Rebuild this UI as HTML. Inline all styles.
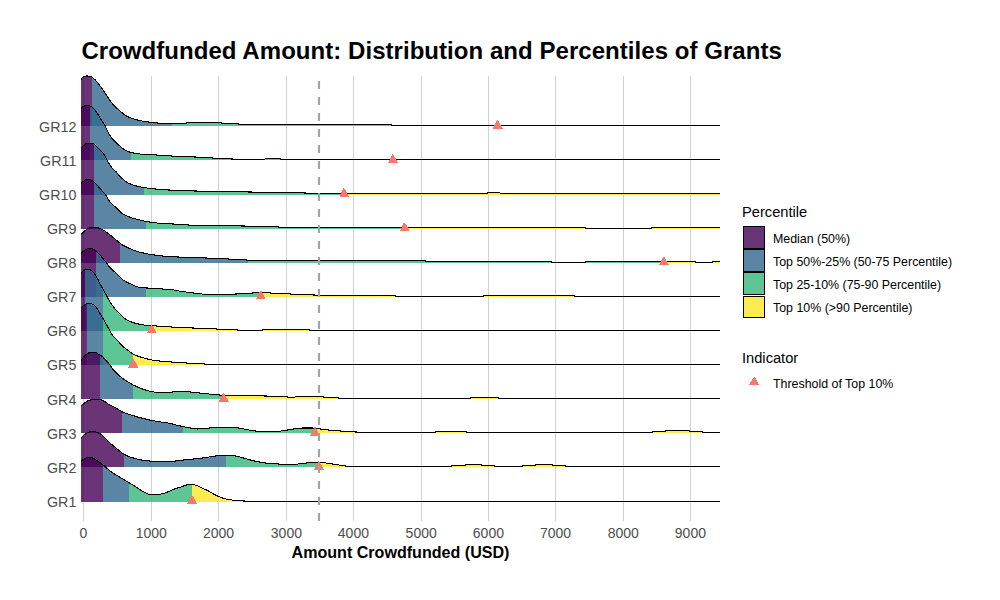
<!DOCTYPE html>
<html><head><meta charset="utf-8">
<style>
html,body{margin:0;padding:0;background:#fff;}
body{width:1000px;height:600px;overflow:hidden;font-family:"Liberation Sans",sans-serif;}
svg{display:block;}
text{font-family:"Liberation Sans",sans-serif;}
.tk{font-size:14px;fill:#4D4D4D;}
.lg{font-size:12.4px;fill:#000;}
.lt{font-size:14.67px;fill:#000;}
</style></head><body>
<svg width="1000" height="600" viewBox="0 0 1000 600">
<rect width="1000" height="600" fill="#fff"/>
<text x="81.4" y="59" font-size="24" font-weight="bold" fill="#000" textLength="700.4" lengthAdjust="spacing">Crowdfunded Amount: Distribution and Percentiles of Grants</text>
<g stroke="#D2D2D2" stroke-width="1" fill="none" shape-rendering="crispEdges">
<path d="M83.5,76V521M151.5,76V521M218.5,76V521M286.5,76V521M353.5,76V521M421.5,76V521M488.5,76V521M555.5,76V521M623.5,76V521M690.5,76V521"/>
</g>
<g shape-rendering="crispEdges">
<linearGradient id="g0" gradientUnits="userSpaceOnUse" x1="81" y1="0" x2="720" y2="0"><stop offset="0.00000" stop-color="#440154"/><stop offset="0.01706" stop-color="#440154"/><stop offset="0.01706" stop-color="#31688E"/><stop offset="0.14241" stop-color="#31688E"/><stop offset="0.14241" stop-color="#35B779"/><stop offset="0.65180" stop-color="#35B779"/><stop offset="0.65180" stop-color="#FDE725"/><stop offset="1.00000" stop-color="#FDE725"/></linearGradient>
<path d="M81,126L81,79.4L82,78L83,76.92L83.5,76.6L84.5,76.31L85.5,76.11L86.5,76.01L89,76.09L90.6,76.25L91,76.35L91.5,76.6L92,76.95L95,79.68L96.5,81.33L98.5,83.74L102,88.58L108.75,98.75L111,101.88L113,104.31L114.5,105.89L116,107.35L119,110.13L121,111.89L124.5,114.6L126,115.63L127,116.23L129.5,117.44L132.5,118.59L136,119.65L140,120.6L144,121.36L148,121.97L159,123.21L161.5,123.44L170,123.78L177.5,123.76L183.5,123.56L188.5,122.63L190,122.5L217,122.5L218.5,122.61L224.5,123.48L234.5,123.62L238.5,124.03L241.5,124.42L243,124.5L391.5,124.5L392,125.5L720,125.5L720,126Z" fill="url(#g0)" fill-opacity="0.80"/>
<path d="M81,79.4L82,78L83,76.92L83.5,76.6L84.5,76.31L85.5,76.11L86.5,76.01L89,76.09L90.6,76.25L91,76.35L91.5,76.6L92,76.95L95,79.68L96.5,81.33L98.5,83.74L102,88.58L108.75,98.75L111,101.88L113,104.31L114.5,105.89L116,107.35L119,110.13L121,111.89L124.5,114.6L126,115.63L127,116.23L129.5,117.44L132.5,118.59L136,119.65L140,120.6L144,121.36L148,121.97L159,123.21L161.5,123.44L170,123.78L177.5,123.76L183.5,123.56L188.5,122.63L190,122.5L217,122.5L218.5,122.61L224.5,123.48L234.5,123.62L238.5,124.03L241.5,124.42L243,124.5L391.5,124.5L392,125.5L720,125.5" fill="none" stroke="#000" stroke-width="1.07" stroke-linejoin="round"/>
</g>
<g shape-rendering="crispEdges">
<linearGradient id="g1" gradientUnits="userSpaceOnUse" x1="81" y1="0" x2="720" y2="0"><stop offset="0.00000" stop-color="#440154"/><stop offset="0.01408" stop-color="#440154"/><stop offset="0.01408" stop-color="#31688E"/><stop offset="0.07864" stop-color="#31688E"/><stop offset="0.07864" stop-color="#35B779"/><stop offset="0.48787" stop-color="#35B779"/><stop offset="0.48787" stop-color="#FDE725"/><stop offset="1.00000" stop-color="#FDE725"/></linearGradient>
<path d="M81,160L81,108.75L82,107.61L83,106.69L83.5,106.37L84.5,105.94L86,105.49L87,105.4L88.5,105.6L90.6,106.25L91.5,106.73L93,108.01L94.5,109.57L96,111.55L98,114.52L101.25,120L104,123.95L105,125.6L105.5,126.62L107.5,131.25L109.5,134.88L111,137.17L112,138.42L113.5,140.02L116,142.47L119,145.24L121,147.22L122.5,148.5L124.5,149.74L127.5,151.16L130,152.13L132.5,152.82L135.5,153.45L138,153.81L142,154.19L146,154.46L161.5,155.24L171.5,156.03L195,157L209.5,157.87L232,159L237,159.38L239.5,159.5L263,159.5L264,159.32L266,158.65L266.5,158.6L279,158.6L279.5,158.67L281,159.27L281.5,159.43L282,159.5L720,159.5L720,160Z" fill="url(#g1)" fill-opacity="0.80"/>
<path d="M81,108.75L82,107.61L83,106.69L83.5,106.37L84.5,105.94L86,105.49L87,105.4L88.5,105.6L90.6,106.25L91.5,106.73L93,108.01L94.5,109.57L96,111.55L98,114.52L101.25,120L104,123.95L105,125.6L105.5,126.62L107.5,131.25L109.5,134.88L111,137.17L112,138.42L113.5,140.02L116,142.47L119,145.24L121,147.22L122.5,148.5L124.5,149.74L127.5,151.16L130,152.13L132.5,152.82L135.5,153.45L138,153.81L142,154.19L146,154.46L161.5,155.24L171.5,156.03L195,157L209.5,157.87L232,159L237,159.38L239.5,159.5L263,159.5L264,159.32L266,158.65L266.5,158.6L279,158.6L279.5,158.67L281,159.27L281.5,159.43L282,159.5L720,159.5" fill="none" stroke="#000" stroke-width="1.07" stroke-linejoin="round"/>
</g>
<g shape-rendering="crispEdges">
<linearGradient id="g2" gradientUnits="userSpaceOnUse" x1="81" y1="0" x2="720" y2="0"><stop offset="0.00000" stop-color="#440154"/><stop offset="0.02034" stop-color="#440154"/><stop offset="0.02034" stop-color="#31688E"/><stop offset="0.09875" stop-color="#31688E"/><stop offset="0.09875" stop-color="#35B779"/><stop offset="0.41158" stop-color="#35B779"/><stop offset="0.41158" stop-color="#FDE725"/><stop offset="1.00000" stop-color="#FDE725"/></linearGradient>
<path d="M81,195L81,148.1L82.5,146.49L83.5,145.59L85.5,144.11L86,143.82L86.9,143.5L89,143.19L90,143.11L91,143.12L92,143.32L93,143.68L94,144.13L94.5,144.47L100,149.97L102.5,152.6L104,154.43L104.5,155.15L105,156.05L106.5,159.23L107.5,161.04L111.5,167.41L112.5,168.75L113.5,169.69L115.5,171.22L116.25,171.9L117,172.77L118.5,174.71L119.5,175.82L121.5,177.82L124,180.12L125,180.98L126,181.74L127.5,182.65L129,183.43L131.5,184.49L135,185.61L139,186.59L143.75,187.5L148.5,188.26L152,188.7L167.5,189.94L172,190.16L191.5,190.89L199,191.1L300.5,192.9L306,193.03L315.5,193.41L319.5,193.5L487,193.5L488,192.7L499.5,192.7L500.5,193.5L720,193.5L720,195Z" fill="url(#g2)" fill-opacity="0.80"/>
<path d="M81,148.1L82.5,146.49L83.5,145.59L85.5,144.11L86,143.82L86.9,143.5L89,143.19L90,143.11L91,143.12L92,143.32L93,143.68L94,144.13L94.5,144.47L100,149.97L102.5,152.6L104,154.43L104.5,155.15L105,156.05L106.5,159.23L107.5,161.04L111.5,167.41L112.5,168.75L113.5,169.69L115.5,171.22L116.25,171.9L117,172.77L118.5,174.71L119.5,175.82L121.5,177.82L124,180.12L125,180.98L126,181.74L127.5,182.65L129,183.43L131.5,184.49L135,185.61L139,186.59L143.75,187.5L148.5,188.26L152,188.7L167.5,189.94L172,190.16L191.5,190.89L199,191.1L300.5,192.9L306,193.03L315.5,193.41L319.5,193.5L487,193.5L488,192.7L499.5,192.7L500.5,193.5L720,193.5" fill="none" stroke="#000" stroke-width="1.07" stroke-linejoin="round"/>
</g>
<g shape-rendering="crispEdges">
<linearGradient id="g3" gradientUnits="userSpaceOnUse" x1="81" y1="0" x2="720" y2="0"><stop offset="0.00000" stop-color="#440154"/><stop offset="0.02034" stop-color="#440154"/><stop offset="0.02034" stop-color="#31688E"/><stop offset="0.10172" stop-color="#31688E"/><stop offset="0.10172" stop-color="#35B779"/><stop offset="0.50626" stop-color="#35B779"/><stop offset="0.50626" stop-color="#FDE725"/><stop offset="1.00000" stop-color="#FDE725"/></linearGradient>
<path d="M81,229L81,183.4L82.5,181.95L83.5,181.17L85.5,179.84L86,179.6L86.5,179.44L87,179.4L88,179.46L90.6,179.9L91.5,180.22L93,181.15L94.5,182.32L95.5,183.34L98,186.16L101.25,190L104.5,193.48L105.5,194.8L107.5,198.06L109.5,201.11L110.5,202.51L111.25,203.4L112.5,204.58L115,206.6L118,209.3L119,210.24L121,212.41L122,213.37L123,214.08L124.5,214.91L128.5,216.67L132,217.94L134.5,218.66L143.5,220.93L147.5,221.72L151.5,222.37L157,223.03L162,223.47L173,224L179,224.53L181.5,224.69L198,225.45L209,225.64L234,225.87L244.5,226.03L278,226.97L286.5,227.41L289.5,227.5L585,227.5L585.5,228.5L651.5,228.5L652,227.5L720,227.5L720,229Z" fill="url(#g3)" fill-opacity="0.80"/>
<path d="M81,183.4L82.5,181.95L83.5,181.17L85.5,179.84L86,179.6L86.5,179.44L87,179.4L88,179.46L90.6,179.9L91.5,180.22L93,181.15L94.5,182.32L95.5,183.34L98,186.16L101.25,190L104.5,193.48L105.5,194.8L107.5,198.06L109.5,201.11L110.5,202.51L111.25,203.4L112.5,204.58L115,206.6L118,209.3L119,210.24L121,212.41L122,213.37L123,214.08L124.5,214.91L128.5,216.67L132,217.94L134.5,218.66L143.5,220.93L147.5,221.72L151.5,222.37L157,223.03L162,223.47L173,224L179,224.53L181.5,224.69L198,225.45L209,225.64L234,225.87L244.5,226.03L278,226.97L286.5,227.41L289.5,227.5L585,227.5L585.5,228.5L651.5,228.5L652,227.5L720,227.5" fill="none" stroke="#000" stroke-width="1.07" stroke-linejoin="round"/>
</g>
<g shape-rendering="crispEdges">
<linearGradient id="g4" gradientUnits="userSpaceOnUse" x1="81" y1="0" x2="720" y2="0"><stop offset="0.00000" stop-color="#440154"/><stop offset="0.06142" stop-color="#440154"/><stop offset="0.06142" stop-color="#31688E"/><stop offset="0.26135" stop-color="#31688E"/><stop offset="0.26135" stop-color="#35B779"/><stop offset="0.91197" stop-color="#35B779"/><stop offset="0.91197" stop-color="#FDE725"/><stop offset="1.00000" stop-color="#FDE725"/></linearGradient>
<path d="M81,263L81,234.4L83,232.34L84.5,231L87,229.03L88,228.41L88.5,228.18L90,227.75L91.5,227.42L92.5,227.27L93.75,227.2L95,227.28L96,227.44L99,228.17L100.5,228.69L102,229.37L104,230.44L105,231.09L113.5,237.6L118,241.57L120.5,243.6L122,244.68L124,245.84L131.5,249.33L135,250.75L137,251.45L140,252.26L146,253.6L148.5,254.13L151,254.56L162,255.95L167.5,256.42L173,256.78L184,257.28L213,258.24L238.5,259.52L247,260.05L253,260.33L260,260.5L425,260.5L425.5,261.5L551.5,261.5L552,262.5L585,262.5L585.5,261.5L695,261.5L695.5,262.5L712.5,262.5L713,261.5L720,261.5L720,263Z" fill="url(#g4)" fill-opacity="0.80"/>
<path d="M81,234.4L83,232.34L84.5,231L87,229.03L88,228.41L88.5,228.18L90,227.75L91.5,227.42L92.5,227.27L93.75,227.2L95,227.28L96,227.44L99,228.17L100.5,228.69L102,229.37L104,230.44L105,231.09L113.5,237.6L118,241.57L120.5,243.6L122,244.68L124,245.84L131.5,249.33L135,250.75L137,251.45L140,252.26L146,253.6L148.5,254.13L151,254.56L162,255.95L167.5,256.42L173,256.78L184,257.28L213,258.24L238.5,259.52L247,260.05L253,260.33L260,260.5L425,260.5L425.5,261.5L551.5,261.5L552,262.5L585,262.5L585.5,261.5L695,261.5L695.5,262.5L712.5,262.5L713,261.5L720,261.5" fill="none" stroke="#000" stroke-width="1.07" stroke-linejoin="round"/>
</g>
<g shape-rendering="crispEdges">
<linearGradient id="g5" gradientUnits="userSpaceOnUse" x1="81" y1="0" x2="720" y2="0"><stop offset="0.00000" stop-color="#440154"/><stop offset="0.02347" stop-color="#440154"/><stop offset="0.02347" stop-color="#31688E"/><stop offset="0.10172" stop-color="#31688E"/><stop offset="0.10172" stop-color="#35B779"/><stop offset="0.28122" stop-color="#35B779"/><stop offset="0.28122" stop-color="#FDE725"/><stop offset="1.00000" stop-color="#FDE725"/></linearGradient>
<path d="M81,297L81,253.75L82.5,252.2L84,250.9L86,249.44L87,248.9L87.5,248.75L89,248.51L90,248.42L91,248.43L92,248.73L94,249.73L95.5,250.75L97,251.99L98.5,253.4L100,255L106,262.18L109,266.41L110.5,268.1L113,270.44L115.5,272.45L116.5,273.33L122.5,279.5L123.1,280L124,280.62L126.5,282L128.5,282.99L133,284.98L135.5,286.18L137,286.76L140,287.43L143,287.85L147.5,288.04L156.5,288.21L158,288.35L162.5,289L172,289.64L173,289.78L175.5,290.39L177.5,290.76L188,292.3L202,294.01L206,294.34L210,294.5L230.5,294.49L232,294.4L236,294L252.5,293.04L257.5,292.51L266,292.5L267.5,292.6L270,292.95L273,293.16L291,294.04L312.5,294.92L314.5,295.03L318,295.4L319.5,295.49L395.5,295.5L396,296.5L483,296.5L483.5,295.5L574,295.5L574.5,296.5L720,296.5L720,297Z" fill="url(#g5)" fill-opacity="0.80"/>
<path d="M81,253.75L82.5,252.2L84,250.9L86,249.44L87,248.9L87.5,248.75L89,248.51L90,248.42L91,248.43L92,248.73L94,249.73L95.5,250.75L97,251.99L98.5,253.4L100,255L106,262.18L109,266.41L110.5,268.1L113,270.44L115.5,272.45L116.5,273.33L122.5,279.5L123.1,280L124,280.62L126.5,282L128.5,282.99L133,284.98L135.5,286.18L137,286.76L140,287.43L143,287.85L147.5,288.04L156.5,288.21L158,288.35L162.5,289L172,289.64L173,289.78L175.5,290.39L177.5,290.76L188,292.3L202,294.01L206,294.34L210,294.5L230.5,294.49L232,294.4L236,294L252.5,293.04L257.5,292.51L266,292.5L267.5,292.6L270,292.95L273,293.16L291,294.04L312.5,294.92L314.5,295.03L318,295.4L319.5,295.49L395.5,295.5L396,296.5L483,296.5L483.5,295.5L574,295.5L574.5,296.5L720,296.5" fill="none" stroke="#000" stroke-width="1.07" stroke-linejoin="round"/>
</g>
<g shape-rendering="crispEdges">
<linearGradient id="g6" gradientUnits="userSpaceOnUse" x1="81" y1="0" x2="720" y2="0"><stop offset="0.00000" stop-color="#440154"/><stop offset="0.00587" stop-color="#440154"/><stop offset="0.00587" stop-color="#31688E"/><stop offset="0.03459" stop-color="#31688E"/><stop offset="0.03459" stop-color="#35B779"/><stop offset="0.11049" stop-color="#35B779"/><stop offset="0.11049" stop-color="#FDE725"/><stop offset="1.00000" stop-color="#FDE725"/></linearGradient>
<path d="M81,331L81,273.1L82.5,271.4L83.5,270.53L84.5,269.96L85.5,269.54L86.5,269.23L87.5,269.1L88.5,269.22L89.5,269.54L90.6,270L91.5,270.57L92.5,271.51L94.5,273.82L95.5,275.24L96.9,277.5L98,279.6L100,283.75L102.5,288.33L105.6,293.75L108,298.57L109,300.29L110.5,302.64L113,306.2L115.5,309.34L117.5,311.55L122,316.17L124,318.01L125.5,319.07L128,320.49L129.5,321.19L131,321.81L134.5,322.97L139,324.11L142.5,324.83L145.5,325.18L161,326.39L169,326.89L192,327.96L234,329.77L238,330L241.5,330.41L243,330.5L260,330.5L261,330.38L263,329.85L264,329.7L269.5,329.55L275,329.5L305.5,329.51L307,329.63L311.5,330.26L314.5,330.46L316,330.5L720,330.5L720,331Z" fill="url(#g6)" fill-opacity="0.80"/>
<path d="M81,273.1L82.5,271.4L83.5,270.53L84.5,269.96L85.5,269.54L86.5,269.23L87.5,269.1L88.5,269.22L89.5,269.54L90.6,270L91.5,270.57L92.5,271.51L94.5,273.82L95.5,275.24L96.9,277.5L98,279.6L100,283.75L102.5,288.33L105.6,293.75L108,298.57L109,300.29L110.5,302.64L113,306.2L115.5,309.34L117.5,311.55L122,316.17L124,318.01L125.5,319.07L128,320.49L129.5,321.19L131,321.81L134.5,322.97L139,324.11L142.5,324.83L145.5,325.18L161,326.39L169,326.89L192,327.96L234,329.77L238,330L241.5,330.41L243,330.5L260,330.5L261,330.38L263,329.85L264,329.7L269.5,329.55L275,329.5L305.5,329.51L307,329.63L311.5,330.26L314.5,330.46L316,330.5L720,330.5" fill="none" stroke="#000" stroke-width="1.07" stroke-linejoin="round"/>
</g>
<g shape-rendering="crispEdges">
<linearGradient id="g7" gradientUnits="userSpaceOnUse" x1="81" y1="0" x2="720" y2="0"><stop offset="0.00000" stop-color="#440154"/><stop offset="0.00955" stop-color="#440154"/><stop offset="0.00955" stop-color="#31688E"/><stop offset="0.03459" stop-color="#31688E"/><stop offset="0.03459" stop-color="#35B779"/><stop offset="0.08153" stop-color="#35B779"/><stop offset="0.08153" stop-color="#FDE725"/><stop offset="1.00000" stop-color="#FDE725"/></linearGradient>
<path d="M81,365L81,308.1L82.5,306.52L83.5,305.64L86,303.98L87,303.56L87.5,303.5L90.6,303.5L91,303.54L91.5,303.68L92.5,304.19L93.75,305L95,305.99L96.5,307.6L97.5,309L99.4,312.5L103,318.37L109,329.21L111,332.95L111.9,334.4L112.5,335.22L113.5,336.44L115,338.1L118.75,341.9L121.5,344.99L122.5,346L124,347.27L129,351.16L132.5,353.67L133.5,354.27L134.5,354.77L137.5,356.03L141.5,357.38L146,358.64L150.5,359.68L154,360.35L157.5,360.81L163.5,361.39L177.5,362.5L200.5,363.77L204.5,364.04L208.5,364.44L210,364.5L720,364.5L720,365Z" fill="url(#g7)" fill-opacity="0.80"/>
<path d="M81,308.1L82.5,306.52L83.5,305.64L86,303.98L87,303.56L87.5,303.5L90.6,303.5L91,303.54L91.5,303.68L92.5,304.19L93.75,305L95,305.99L96.5,307.6L97.5,309L99.4,312.5L103,318.37L109,329.21L111,332.95L111.9,334.4L112.5,335.22L113.5,336.44L115,338.1L118.75,341.9L121.5,344.99L122.5,346L124,347.27L129,351.16L132.5,353.67L133.5,354.27L134.5,354.77L137.5,356.03L141.5,357.38L146,358.64L150.5,359.68L154,360.35L157.5,360.81L163.5,361.39L177.5,362.5L200.5,363.77L204.5,364.04L208.5,364.44L210,364.5L720,364.5" fill="none" stroke="#000" stroke-width="1.07" stroke-linejoin="round"/>
</g>
<g shape-rendering="crispEdges">
<linearGradient id="g8" gradientUnits="userSpaceOnUse" x1="81" y1="0" x2="720" y2="0"><stop offset="0.00000" stop-color="#440154"/><stop offset="0.02973" stop-color="#440154"/><stop offset="0.02973" stop-color="#31688E"/><stop offset="0.08153" stop-color="#31688E"/><stop offset="0.08153" stop-color="#35B779"/><stop offset="0.22300" stop-color="#35B779"/><stop offset="0.22300" stop-color="#FDE725"/><stop offset="1.00000" stop-color="#FDE725"/></linearGradient>
<path d="M81,399L81,360.6L82.5,358.5L84,356.68L86,354.61L87,353.79L87.5,353.5L89.5,352.6L90.5,352.32L91,352.26L93.5,352.32L95.5,352.49L96,352.59L97,353.13L98.75,354.4L101.5,355.97L102,356.33L103,357.2L106.5,360.98L108.5,363.29L110,365.21L112,368.12L113.5,369.84L116.25,372.5L119,375.32L120,376.25L122.5,378.24L126,380.66L131.5,384L133.75,385.25L137.5,386.98L142,388.78L146.5,390.31L149.5,391.14L154,392L155.5,392.19L157.5,392.33L162,392.5L167.5,392.4L170.5,392.27L174.5,391.74L177.5,391.53L180.5,391.41L183,391.43L189,391.83L199,393L218,394.92L225,395.33L235,395.6L258.5,395.87L268,396.06L285.5,396.88L290,397.2L292.5,397.5L293,397.46L295,397L297.5,396.72L299.5,396.61L320,396.7L321.5,396.79L325,397.2L335,397.7L341,398.23L345.5,398.49L470,398.5L470.5,397.6L498,397.6L498.5,398.5L720,398.5L720,399Z" fill="url(#g8)" fill-opacity="0.80"/>
<path d="M81,360.6L82.5,358.5L84,356.68L86,354.61L87,353.79L87.5,353.5L89.5,352.6L90.5,352.32L91,352.26L93.5,352.32L95.5,352.49L96,352.59L97,353.13L98.75,354.4L101.5,355.97L102,356.33L103,357.2L106.5,360.98L108.5,363.29L110,365.21L112,368.12L113.5,369.84L116.25,372.5L119,375.32L120,376.25L122.5,378.24L126,380.66L131.5,384L133.75,385.25L137.5,386.98L142,388.78L146.5,390.31L149.5,391.14L154,392L155.5,392.19L157.5,392.33L162,392.5L167.5,392.4L170.5,392.27L174.5,391.74L177.5,391.53L180.5,391.41L183,391.43L189,391.83L199,393L218,394.92L225,395.33L235,395.6L258.5,395.87L268,396.06L285.5,396.88L290,397.2L292.5,397.5L293,397.46L295,397L297.5,396.72L299.5,396.61L320,396.7L321.5,396.79L325,397.2L335,397.7L341,398.23L345.5,398.49L470,398.5L470.5,397.6L498,397.6L498.5,398.5L720,398.5" fill="none" stroke="#000" stroke-width="1.07" stroke-linejoin="round"/>
</g>
<g shape-rendering="crispEdges">
<linearGradient id="g9" gradientUnits="userSpaceOnUse" x1="81" y1="0" x2="720" y2="0"><stop offset="0.00000" stop-color="#440154"/><stop offset="0.06455" stop-color="#440154"/><stop offset="0.06455" stop-color="#31688E"/><stop offset="0.15978" stop-color="#31688E"/><stop offset="0.15978" stop-color="#35B779"/><stop offset="0.36620" stop-color="#35B779"/><stop offset="0.36620" stop-color="#FDE725"/><stop offset="1.00000" stop-color="#FDE725"/></linearGradient>
<path d="M81,433L81,406.25L83,404.12L84.5,402.85L86.5,401.6L87.5,401.09L88.5,400.69L91.5,399.73L93,399.44L98.75,399.4L100,399.55L101,399.84L102,400.23L104.5,401.39L105.5,402.05L108,403.92L108.75,404.4L110,405.07L113.5,406.77L115.5,407.85L118.75,409.7L121.5,411.46L122.5,412L124,412.62L125.5,413.14L137,416.85L140,417.67L146.5,419.29L150.5,420.2L154,420.86L159.5,421.79L169,423.15L170.5,423.49L176.5,425.13L182.5,426.52L191,428.14L195,428.79L197,428.99L199,428.93L203,428.5L216,427.5L224.5,427.3L232.5,427.44L236,427.6L237,427.71L250.5,430.25L256.5,431.16L263,431.63L265.5,431.7L268.5,431.69L275,431.56L277.5,431.38L281,431L285,430.45L296,428.63L300.5,428.12L303,428L312.5,428.01L314.5,428.19L328,429.94L335,430.5L341,431.07L349.5,431.67L365,432.5L435,432.5L435.5,431.6L466,431.6L466.5,432.5L652,432.5L652.5,431.7L665,431.7L665.5,430.5L689,430.5L689.5,431.7L702,431.7L702.5,432.5L720,432.5L720,433Z" fill="url(#g9)" fill-opacity="0.80"/>
<path d="M81,406.25L83,404.12L84.5,402.85L86.5,401.6L87.5,401.09L88.5,400.69L91.5,399.73L93,399.44L98.75,399.4L100,399.55L101,399.84L102,400.23L104.5,401.39L105.5,402.05L108,403.92L108.75,404.4L110,405.07L113.5,406.77L115.5,407.85L118.75,409.7L121.5,411.46L122.5,412L124,412.62L125.5,413.14L137,416.85L140,417.67L146.5,419.29L150.5,420.2L154,420.86L159.5,421.79L169,423.15L170.5,423.49L176.5,425.13L182.5,426.52L191,428.14L195,428.79L197,428.99L199,428.93L203,428.5L216,427.5L224.5,427.3L232.5,427.44L236,427.6L237,427.71L250.5,430.25L256.5,431.16L263,431.63L265.5,431.7L268.5,431.69L275,431.56L277.5,431.38L281,431L285,430.45L296,428.63L300.5,428.12L303,428L312.5,428.01L314.5,428.19L328,429.94L335,430.5L341,431.07L349.5,431.67L365,432.5L435,432.5L435.5,431.6L466,431.6L466.5,432.5L652,432.5L652.5,431.7L665,431.7L665.5,430.5L689,430.5L689.5,431.7L702,431.7L702.5,432.5L720,432.5" fill="none" stroke="#000" stroke-width="1.07" stroke-linejoin="round"/>
</g>
<g shape-rendering="crispEdges">
<linearGradient id="g10" gradientUnits="userSpaceOnUse" x1="81" y1="0" x2="720" y2="0"><stop offset="0.00000" stop-color="#440154"/><stop offset="0.06792" stop-color="#440154"/><stop offset="0.06792" stop-color="#31688E"/><stop offset="0.22723" stop-color="#31688E"/><stop offset="0.22723" stop-color="#35B779"/><stop offset="0.37199" stop-color="#35B779"/><stop offset="0.37199" stop-color="#FDE725"/><stop offset="1.00000" stop-color="#FDE725"/></linearGradient>
<path d="M81,467L81,438.1L83,436.05L84.5,434.77L86.5,433.38L88,432.55L90.5,431.69L92,431.34L93,431.25L93.5,431.27L95,431.57L97.5,432.5L99,433.17L100.5,434.04L102,435.07L103,435.95L106,439.15L109.5,442.52L111.5,444.25L115,447L119,450.59L120.5,451.78L122.5,453.22L124,454.17L126,455.26L128,456.2L130.5,457.12L136.5,458.91L139,459.55L141,459.92L143.5,460.27L150,461.05L152.5,461.25L158,461.44L163,461.5L168,461.41L173.5,461.19L175.5,461L180.5,460.34L187,459.61L200,458.33L205.5,457.57L213.5,456.27L219.5,455.55L222,455.4L230,455.4L232,455.52L235,455.91L239,456.73L241.5,457.39L252,460.47L256.5,461.51L263,462.65L265.5,462.98L268.5,463.29L273.5,463.69L280,464.12L286,464.34L290.5,464.4L293.5,464.3L297.5,464.05L300.5,463.75L305,463.16L310.5,462.66L316,462.53L321,462.52L323,462.67L327.5,463.18L344.5,465.85L348.5,466.33L350.5,466.49L451,466.5L451.5,465.6L465,465.6L465.5,464.3L481,464.3L481.5,465.6L494,465.6L494.5,466.5L522,466.5L522.5,465.6L535,465.6L535.5,464.5L552,464.5L552.5,465.6L565,465.6L565.5,466.5L720,466.5L720,467Z" fill="url(#g10)" fill-opacity="0.80"/>
<path d="M81,438.1L83,436.05L84.5,434.77L86.5,433.38L88,432.55L90.5,431.69L92,431.34L93,431.25L93.5,431.27L95,431.57L97.5,432.5L99,433.17L100.5,434.04L102,435.07L103,435.95L106,439.15L109.5,442.52L111.5,444.25L115,447L119,450.59L120.5,451.78L122.5,453.22L124,454.17L126,455.26L128,456.2L130.5,457.12L136.5,458.91L139,459.55L141,459.92L143.5,460.27L150,461.05L152.5,461.25L158,461.44L163,461.5L168,461.41L173.5,461.19L175.5,461L180.5,460.34L187,459.61L200,458.33L205.5,457.57L213.5,456.27L219.5,455.55L222,455.4L230,455.4L232,455.52L235,455.91L239,456.73L241.5,457.39L252,460.47L256.5,461.51L263,462.65L265.5,462.98L268.5,463.29L273.5,463.69L280,464.12L286,464.34L290.5,464.4L293.5,464.3L297.5,464.05L300.5,463.75L305,463.16L310.5,462.66L316,462.53L321,462.52L323,462.67L327.5,463.18L344.5,465.85L348.5,466.33L350.5,466.49L451,466.5L451.5,465.6L465,465.6L465.5,464.3L481,464.3L481.5,465.6L494,465.6L494.5,466.5L522,466.5L522.5,465.6L535,465.6L535.5,464.5L552,464.5L552.5,465.6L565,465.6L565.5,466.5L720,466.5" fill="none" stroke="#000" stroke-width="1.07" stroke-linejoin="round"/>
</g>
<g shape-rendering="crispEdges">
<linearGradient id="g11" gradientUnits="userSpaceOnUse" x1="81" y1="0" x2="720" y2="0"><stop offset="0.00000" stop-color="#440154"/><stop offset="0.03459" stop-color="#440154"/><stop offset="0.03459" stop-color="#31688E"/><stop offset="0.07512" stop-color="#31688E"/><stop offset="0.07512" stop-color="#35B779"/><stop offset="0.17355" stop-color="#35B779"/><stop offset="0.17355" stop-color="#FDE725"/><stop offset="1.00000" stop-color="#FDE725"/></linearGradient>
<path d="M81,502L81,461.25L82.5,460.01L84,458.99L86,458.09L88,457.43L89.4,457.25L90.5,457.37L92,457.81L94,458.61L95.5,459.48L98.5,461.72L103,464.92L104.5,466.15L110,470.92L111.25,471.9L112.5,472.75L131.5,484.18L134,485.76L140,489.72L142,490.96L147,493.54L148,493.95L149,494.25L150,494.4L152,494.5L155,494.59L157,494.58L159.5,494.31L163,493.64L164.5,493.2L166.5,492.43L169.5,491.19L174.5,488.94L176.5,488.26L181.5,486.82L186,485.11L187.5,484.75L189.5,484.46L191,484.33L192.5,484.33L193.5,484.5L194.5,484.79L197.5,485.87L201.9,488.1L206.5,489.97L208,490.73L212,493.15L215,494.73L220,497.12L222.3,498L224.5,498.6L227,499.17L229.5,499.62L232.5,500.06L237.6,500.6L246.5,501.16L249.5,501.48L720,501.5L720,502Z" fill="url(#g11)" fill-opacity="0.80"/>
<path d="M81,461.25L82.5,460.01L84,458.99L86,458.09L88,457.43L89.4,457.25L90.5,457.37L92,457.81L94,458.61L95.5,459.48L98.5,461.72L103,464.92L104.5,466.15L110,470.92L111.25,471.9L112.5,472.75L131.5,484.18L134,485.76L140,489.72L142,490.96L147,493.54L148,493.95L149,494.25L150,494.4L152,494.5L155,494.59L157,494.58L159.5,494.31L163,493.64L164.5,493.2L166.5,492.43L169.5,491.19L174.5,488.94L176.5,488.26L181.5,486.82L186,485.11L187.5,484.75L189.5,484.46L191,484.33L192.5,484.33L193.5,484.5L194.5,484.79L197.5,485.87L201.9,488.1L206.5,489.97L208,490.73L212,493.15L215,494.73L220,497.12L222.3,498L224.5,498.6L227,499.17L229.5,499.62L232.5,500.06L237.6,500.6L246.5,501.16L249.5,501.48L720,501.5" fill="none" stroke="#000" stroke-width="1.07" stroke-linejoin="round"/>
</g>
<g fill="#F8766D" shape-rendering="crispEdges"><path d="M496.95,120.2L497.95,120.2L502.7,128.8L492.8,128.8Z"/><path d="M392.2,154.3L393.2,154.3L397.95,162.9L388.05,162.9Z"/><path d="M343.45,188.4L344.45,188.4L349.2,197L339.3,197Z"/><path d="M403.95,222.5L404.95,222.5L409.7,231.1L399.8,231.1Z"/><path d="M663.2,256.6L664.2,256.6L668.95,265.2L659.05,265.2Z"/><path d="M260.15,290.7L261.15,290.7L265.9,299.3L256,299.3Z"/><path d="M151.05,324.8L152.05,324.8L156.8,333.4L146.9,333.4Z"/><path d="M132.55,358.9L133.55,358.9L138.3,367.5L128.4,367.5Z"/><path d="M222.95,393L223.95,393L228.7,401.6L218.8,401.6Z"/><path d="M314.45,427.1L315.45,427.1L320.2,435.7L310.3,435.7Z"/><path d="M318.15,461.2L319.15,461.2L323.9,469.8L314,469.8Z"/><path d="M191.35,495.3L192.35,495.3L197.1,503.9L187.2,503.9Z"/></g>
<path d="M319,81V521" stroke="#A3A3A3" stroke-width="2.2" stroke-dasharray="8 8" fill="none"/>
<g class="tk" text-anchor="end" style="font-size:14.3px">
<text x="76.4" y="131.7">GR12</text><text x="76.4" y="165.8">GR11</text><text x="76.4" y="199.9">GR10</text><text x="76.4" y="234.0">GR9</text><text x="76.4" y="268.1">GR8</text><text x="76.4" y="302.2">GR7</text><text x="76.4" y="336.3">GR6</text><text x="76.4" y="370.4">GR5</text><text x="76.4" y="404.5">GR4</text><text x="76.4" y="438.6">GR3</text><text x="76.4" y="472.7">GR2</text><text x="76.4" y="506.8">GR1</text>
</g>
<g class="tk" text-anchor="middle">
<text x="83.5" y="537.6">0</text><text x="151.3" y="537.6">1000</text><text x="218.5" y="537.6">2000</text><text x="286.4" y="537.6">3000</text><text x="353.4" y="537.6">4000</text><text x="421.2" y="537.6">5000</text><text x="488.4" y="537.6">6000</text><text x="555.5" y="537.6">7000</text><text x="623.3" y="537.6">8000</text><text x="690.4" y="537.6">9000</text>
</g>
<text x="400.5" y="558" font-size="16.08" font-weight="bold" text-anchor="middle" fill="#000">Amount Crowdfunded (USD)</text>
<text class="lt" x="742" y="217">Percentile</text>
<g stroke="#000" stroke-width="1" shape-rendering="crispEdges">
<rect x="743.5" y="226.5" width="21" height="22" fill="#440154" fill-opacity="0.8"/>
<rect x="743.5" y="249.5" width="21" height="22" fill="#31688E" fill-opacity="0.8"/>
<rect x="743.5" y="272.5" width="21" height="22" fill="#35B779" fill-opacity="0.8"/>
<rect x="743.5" y="296.5" width="21" height="21" fill="#FDE725" fill-opacity="0.8"/>
</g>
<g class="lg">
<text x="773" y="243.2">Median (50%)</text>
<text x="773" y="266.2">Top 50%-25% (50-75 Percentile)</text>
<text x="773" y="289.2">Top 25-10% (75-90 Percentile)</text>
<text x="773" y="312.2">Top 10% (&gt;90 Percentile)</text>
</g>
<text class="lt" x="742" y="362.5">Indicator</text>
<path d="M753.95,376.9L755.05,376.9L759.1,385L748.9,385Z" fill="#F8766D" shape-rendering="crispEdges"/>
<text class="lg" x="773" y="388">Threshold of Top 10%</text>
</svg>
</body></html>
